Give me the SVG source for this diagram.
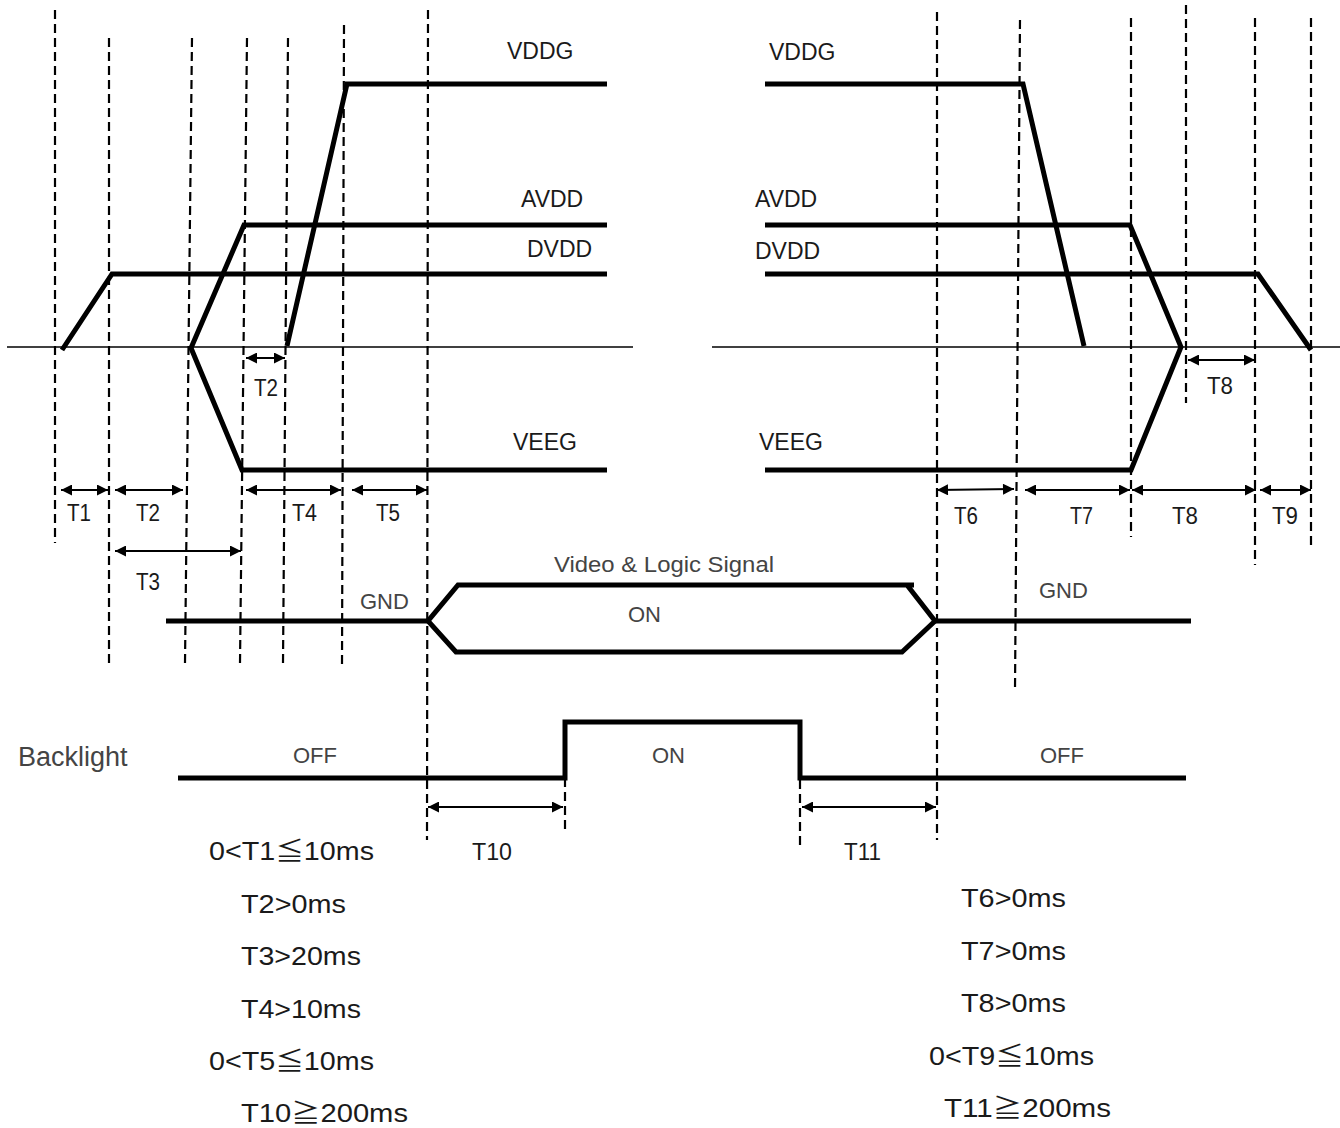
<svg xmlns="http://www.w3.org/2000/svg" width="1340" height="1128" viewBox="0 0 1340 1128">
<style>
.dash{stroke:#000;stroke-width:2.2;stroke-dasharray:9 5;fill:none}
.sig{stroke:#000;stroke-width:5;fill:none;stroke-linejoin:miter;stroke-linecap:butt}
.axis{stroke:#000;stroke-width:1.5;fill:none}
.arr{stroke:#000;stroke-width:2;fill:none;marker-start:url(#ah);marker-end:url(#ah)}
.lab{font-family:"Liberation Sans",Arial,sans-serif;font-size:23px;fill:#1a1a1a}
.gray{font-family:"Liberation Sans",Arial,sans-serif;font-size:22px;fill:#444}
.t{font-family:"Liberation Sans",Arial,sans-serif;font-size:23px;fill:#1a1a1a}
.cond{font-family:"Liberation Sans","Noto Sans CJK JP",sans-serif;font-size:25px;fill:#1a1a1a}
</style>
<defs>
<marker id="ah" viewBox="0 0 10 10" refX="10" refY="5" markerWidth="12" markerHeight="11" markerUnits="userSpaceOnUse" orient="auto-start-reverse">
<path d="M0,0 L10,5 L0,10 z" fill="#000"/>
</marker>
</defs>
<rect width="1340" height="1128" fill="#fff"/>

<g id="guides">
<line class="dash" x1="55" y1="10" x2="55" y2="543"/>
<line class="dash" x1="109" y1="38" x2="109" y2="663"/>
<line class="dash" x1="192" y1="38" x2="185" y2="663"/>
<line class="dash" x1="247" y1="38" x2="240" y2="663"/>
<line class="dash" x1="288" y1="38" x2="283" y2="663"/>
<line class="dash" x1="344" y1="25" x2="342" y2="665"/>
<line class="dash" x1="428" y1="10" x2="427" y2="840"/>
<line class="dash" x1="937" y1="12" x2="937" y2="840"/>
<line class="dash" x1="1020" y1="20" x2="1015" y2="690"/>
<line class="dash" x1="1131" y1="18" x2="1131" y2="537"/>
<line class="dash" x1="1186" y1="5" x2="1186" y2="403"/>
<line class="dash" x1="1255" y1="18" x2="1255" y2="565"/>
<line class="dash" x1="1311" y1="18" x2="1311" y2="550"/>
<line class="dash" x1="565" y1="778" x2="565" y2="833"/>
<line class="dash" x1="800" y1="780" x2="800" y2="848"/>
</g>

<g id="axes">
<line class="axis" x1="7" y1="347" x2="633" y2="347"/>
<line class="axis" x1="712" y1="347" x2="1340" y2="347"/>
</g>

<g id="power-on">
<polyline class="sig" points="62,350 112,274 607,274"/>
<polyline class="sig" points="607,225 244,225 191,348 242,470 607,470"/>
<polyline class="sig" points="287,346 347,84 607,84"/>
</g>

<g id="power-off">
<polyline class="sig" points="765,84 1023,84 1084,346"/>
<polyline class="sig" points="765,225 1130,225 1181,347 1131,470 765,470"/>
<polyline class="sig" points="765,274 1258,274 1311,350"/>
</g>

<g id="video-signal">
<line class="sig" x1="166" y1="621" x2="428" y2="621"/>
<path class="sig" d="M914,585 L458,585 L428,621 L456,652 L902,652 L935,621 L907,585"/>
<line class="sig" x1="935" y1="621" x2="1191" y2="621"/>
</g>

<g id="backlight">
<polyline class="sig" points="178,778 565,778 565,722 800,722 800,778 1186,778"/>
</g>

<g id="connectors">
<line class="arr" x1="246" y1="358" x2="285" y2="358"/>
<line class="arr" x1="61" y1="490" x2="108" y2="490"/>
<line class="arr" x1="115" y1="490" x2="183" y2="490"/>
<line class="arr" x1="246" y1="490" x2="341" y2="490"/>
<line class="arr" x1="352" y1="490" x2="427" y2="490"/>
<line class="arr" x1="115" y1="551" x2="241" y2="551"/>
<line class="arr" x1="937" y1="490" x2="1014" y2="489"/>
<line class="arr" x1="1025" y1="490" x2="1130" y2="490"/>
<line class="arr" x1="1132" y1="490" x2="1256" y2="490"/>
<line class="arr" x1="1260" y1="490" x2="1311" y2="490"/>
<line class="arr" x1="1188" y1="360" x2="1255" y2="360"/>
<line class="arr" x1="428" y1="807" x2="563" y2="807"/>
<line class="arr" x1="802" y1="807" x2="936" y2="807"/>
</g>

<g id="signal-labels">
<text class="lab" x="507" y="59">VDDG</text>
<text class="lab" x="521" y="207">AVDD</text>
<text class="lab" x="527" y="257">DVDD</text>
<text class="lab" x="513" y="450">VEEG</text>
<text class="lab" x="769" y="60">VDDG</text>
<text class="lab" x="755" y="207">AVDD</text>
<text class="lab" x="755" y="259">DVDD</text>
<text class="lab" x="759" y="450">VEEG</text>
<text class="gray" x="18" y="766" style="font-size:27px">Backlight</text>
<text class="gray" x="293" y="763">OFF</text>
<text class="gray" x="652" y="763">ON</text>
<text class="gray" x="1040" y="763">OFF</text>
<text class="gray" x="628" y="622">ON</text>
<text class="gray" x="554" y="572" textLength="220" lengthAdjust="spacingAndGlyphs">Video &amp; Logic Signal</text>
<text class="gray" x="360" y="609">GND</text>
<text class="gray" x="1039" y="598">GND</text>
</g>

<g id="timing-labels">
<text class="t" x="254" y="396" textLength="24" lengthAdjust="spacingAndGlyphs">T2</text>
<text class="t" x="67" y="521" textLength="24" lengthAdjust="spacingAndGlyphs">T1</text>
<text class="t" x="136" y="521" textLength="24" lengthAdjust="spacingAndGlyphs">T2</text>
<text class="t" x="292" y="521" textLength="25" lengthAdjust="spacingAndGlyphs">T4</text>
<text class="t" x="376" y="521" textLength="24" lengthAdjust="spacingAndGlyphs">T5</text>
<text class="t" x="136" y="590" textLength="24" lengthAdjust="spacingAndGlyphs">T3</text>
<text class="t" x="954" y="524" textLength="24" lengthAdjust="spacingAndGlyphs">T6</text>
<text class="t" x="1070" y="524" textLength="23" lengthAdjust="spacingAndGlyphs">T7</text>
<text class="t" x="1172" y="524" textLength="26" lengthAdjust="spacingAndGlyphs">T8</text>
<text class="t" x="1272" y="524" textLength="26" lengthAdjust="spacingAndGlyphs">T9</text>
<text class="t" x="1207" y="394" textLength="26" lengthAdjust="spacingAndGlyphs">T8</text>
<text class="t" x="472" y="860" textLength="40" lengthAdjust="spacingAndGlyphs">T10</text>
<text class="t" x="844" y="860" textLength="37" lengthAdjust="spacingAndGlyphs">T11</text>
</g>

<g id="conditions-on">
<text class="cond" x="209" y="860" textLength="165" lengthAdjust="spacingAndGlyphs">0&lt;T1≦10ms</text>
<text class="cond" x="241" y="913" textLength="105" lengthAdjust="spacingAndGlyphs">T2&gt;0ms</text>
<text class="cond" x="241" y="965" textLength="120" lengthAdjust="spacingAndGlyphs">T3&gt;20ms</text>
<text class="cond" x="241" y="1018" textLength="120" lengthAdjust="spacingAndGlyphs">T4&gt;10ms</text>
<text class="cond" x="209" y="1070" textLength="165" lengthAdjust="spacingAndGlyphs">0&lt;T5≦10ms</text>
<text class="cond" x="241" y="1122" textLength="167" lengthAdjust="spacingAndGlyphs">T10≧200ms</text>
</g>

<g id="conditions-off">
<text class="cond" x="961" y="907" textLength="105" lengthAdjust="spacingAndGlyphs">T6&gt;0ms</text>
<text class="cond" x="961" y="960" textLength="105" lengthAdjust="spacingAndGlyphs">T7&gt;0ms</text>
<text class="cond" x="961" y="1012" textLength="105" lengthAdjust="spacingAndGlyphs">T8&gt;0ms</text>
<text class="cond" x="929" y="1065" textLength="165" lengthAdjust="spacingAndGlyphs">0&lt;T9≦10ms</text>
<text class="cond" x="944" y="1117" textLength="167" lengthAdjust="spacingAndGlyphs">T11≧200ms</text>
</g>
</svg>
